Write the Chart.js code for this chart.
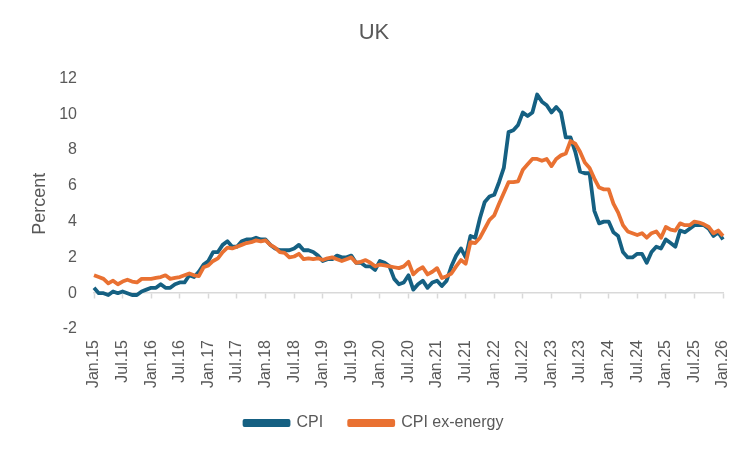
<!DOCTYPE html>
<html>
<head>
<meta charset="utf-8">
<script src="https://cdn.jsdelivr.net/npm/chart.js@4/dist/chart.umd.min.js"></script>
<style>
  html, body { margin: 0; padding: 0; background: #fff; }
  #wrap { width: 750px; height: 450px; }
</style>
</head>
<body>
<div id="wrap"><canvas id="ukChart"></canvas></div>
<script>
// monthly, Jan.15 .. Jan.26
const monthNames = ['Jan', 'Feb', 'Mar', 'Apr', 'May', 'Jun', 'Jul', 'Aug', 'Sep', 'Oct', 'Nov', 'Dec'];
const labels = [];
for (let y = 15; y <= 26; y++) {
  for (let m = 0; m < 12; m++) {
    if (y === 26 && m > 0) break;
    labels.push(monthNames[m] + '.' + y);
  }
}

// CPI, % y/y
const cpi = [
  0.3, 0.0, 0.0, -0.1, 0.1, 0.0, 0.1, 0.0, -0.1, -0.1, 0.1, 0.2,   // 2015
  0.3, 0.3, 0.5, 0.3, 0.3, 0.5, 0.6, 0.6, 1.0, 0.9, 1.2, 1.6,      // 2016
  1.8, 2.3, 2.3, 2.7, 2.9, 2.6, 2.6, 2.9, 3.0, 3.0, 3.1, 3.0,      // 2017
  3.0, 2.7, 2.5, 2.4, 2.4, 2.4, 2.5, 2.7, 2.4, 2.4, 2.3, 2.1,      // 2018
  1.8, 1.9, 1.9, 2.1, 2.0, 2.0, 2.1, 1.7, 1.7, 1.5, 1.5, 1.3,      // 2019
  1.8, 1.7, 1.5, 0.8, 0.5, 0.6, 1.0, 0.2, 0.5, 0.7, 0.3, 0.6,      // 2020
  0.7, 0.4, 0.7, 1.5, 2.1, 2.5, 2.0, 3.2, 3.1, 4.2, 5.1, 5.4,      // 2021
  5.5, 6.2, 7.0, 9.0, 9.1, 9.4, 10.1, 9.9, 10.1, 11.1, 10.7, 10.5, // 2022
  10.1, 10.4, 10.1, 8.7, 8.7, 7.9, 6.8, 6.7, 6.7, 4.6, 3.9, 4.0,   // 2023
  4.0, 3.4, 3.2, 2.3, 2.0, 2.0, 2.2, 2.2, 1.7, 2.3, 2.6, 2.5,      // 2024
  3.0, 2.8, 2.6, 3.5, 3.4, 3.6, 3.8, 3.8, 3.8, 3.6, 3.2, 3.4,      // 2025
  3.0                                                              // 2026
];

// CPI ex-energy, % y/y
const cpiExEnergy = [
  1.0, 0.9, 0.8, 0.55, 0.7, 0.5, 0.65, 0.75, 0.65, 0.6, 0.8, 0.8,  // 2015
  0.8, 0.85, 0.9, 1.0, 0.8, 0.85, 0.9, 1.0, 1.1, 1.0, 0.95, 1.45,  // 2016
  1.55, 1.8, 1.95, 2.3, 2.55, 2.5, 2.6, 2.7, 2.8, 2.85, 2.95, 2.9, // 2017
  2.95, 2.7, 2.55, 2.3, 2.25, 2.0, 2.05, 2.2, 1.9, 1.95, 1.9, 1.95,// 2018
  1.85, 1.95, 2.0, 1.9, 1.8, 1.9, 2.0, 1.7, 1.75, 1.85, 1.7, 1.5,  // 2019
  1.6, 1.55, 1.5, 1.45, 1.4, 1.5, 1.75, 1.05, 1.3, 1.45, 1.05, 1.2,// 2020
  1.4, 0.85, 0.95, 1.1, 1.5, 1.85, 1.65, 2.85, 2.8, 3.1, 3.6, 4.1, // 2021
  4.35, 5.0, 5.6, 6.2, 6.2, 6.25, 6.9, 7.2, 7.5, 7.5, 7.4, 7.5,    // 2022
  7.1, 7.5, 7.7, 7.8, 8.5, 8.35, 7.9, 7.3, 7.0, 6.4, 5.9, 5.8,     // 2023
  5.8, 5.0, 4.5, 3.8, 3.45, 3.35, 3.25, 3.35, 3.1, 3.35, 3.45, 3.1,// 2024
  3.7, 3.55, 3.5, 3.9, 3.8, 3.8, 4.0, 3.95, 3.85, 3.7, 3.35, 3.5,  // 2025
  3.2                                                              // 2026
];

const yTicks = [-2, 0, 2, 4, 6, 8, 10, 12];

const txt = '#595959';
const fontFam = "'Liberation Sans', Arial, sans-serif";

const ctx = document.getElementById('ukChart').getContext('2d');

new Chart(ctx, {
  type: 'line',
  data: {
    labels: labels,
    datasets: [
      {
        label: 'CPI ex-energy',
        data: cpiExEnergy,
        borderColor: '#E97132',
        backgroundColor: '#E97132',
        borderWidth: 3.8,
        pointRadius: 0,
        tension: 0,
        borderJoinStyle: 'round'
      },
      {
        label: 'CPI',
        data: cpi,
        borderColor: '#156082',
        backgroundColor: '#156082',
        borderWidth: 3.8,
        pointRadius: 0,
        tension: 0,
        borderJoinStyle: 'round'
      }
    ]
  },
  options: {
    responsive: true,
    maintainAspectRatio: false,
    animation: false,
    layout: {
      padding: { left: 25, right: 27, top: 8, bottom: 9 }
    },
    plugins: {
      title: {
        display: true,
        text: 'UK',
        color: txt,
        font: { family: fontFam, size: 22, weight: 'normal' },
        padding: { top: 12, bottom: 32 }
      },
      legend: {
        position: 'bottom',
        reverse: true,
        labels: {
          color: txt,
          font: { family: fontFam, size: 16 },
          boxWidth: 44,
          boxHeight: 4,
          padding: 26
        }
      },
      tooltip: { enabled: false }
    },
    scales: {
      x: {
        type: 'category',
        position: 'bottom',
        grid: { display: false, drawTicks: false },
        border: { display: false },
        ticks: {
          autoSkip: false,
          minRotation: 90,
          maxRotation: 90,
          padding: 11,
          color: txt,
          font: { family: fontFam, size: 16 },
          callback: function (value, index) {
            return index % 6 === 0 ? labels[index] : '';
          }
        },
        afterFit: function (scale) {
          scale.height = 60;
          scale.paddingLeft = 0;
          scale.paddingRight = 0;
        }
      },
      x2: {
        type: 'category',
        position: { y: 0 },
        grid: {
          display: true,
          drawOnChartArea: false,
          drawTicks: true,
          tickLength: 5,
          tickWidth: 1.5,
          tickColor: function (c) {
            return c.index % 6 === 0 ? '#d9d9d9' : 'rgba(0,0,0,0)';
          }
        },
        border: { display: true, color: '#d9d9d9', width: 1.5 },
        ticks: { display: false, autoSkip: false }
      },
      y: {
        min: yTicks[0],
        max: yTicks[yTicks.length - 1],
        grid: { display: false, drawTicks: false },
        border: { display: false },
        afterBuildTicks: function (scale) {
          scale.ticks = yTicks.map(v => ({ value: v }));
        },
        afterFit: function (scale) {
          scale.width = 69;
        },
        ticks: {
          padding: 17,
          color: txt,
          font: { family: fontFam, size: 16 }
        },
        title: {
          display: true,
          text: 'Percent',
          color: txt,
          font: { family: fontFam, size: 18 },
          padding: { top: 4, bottom: 8 }
        }
      }
    }
  }
});
</script>
</body>
</html>
